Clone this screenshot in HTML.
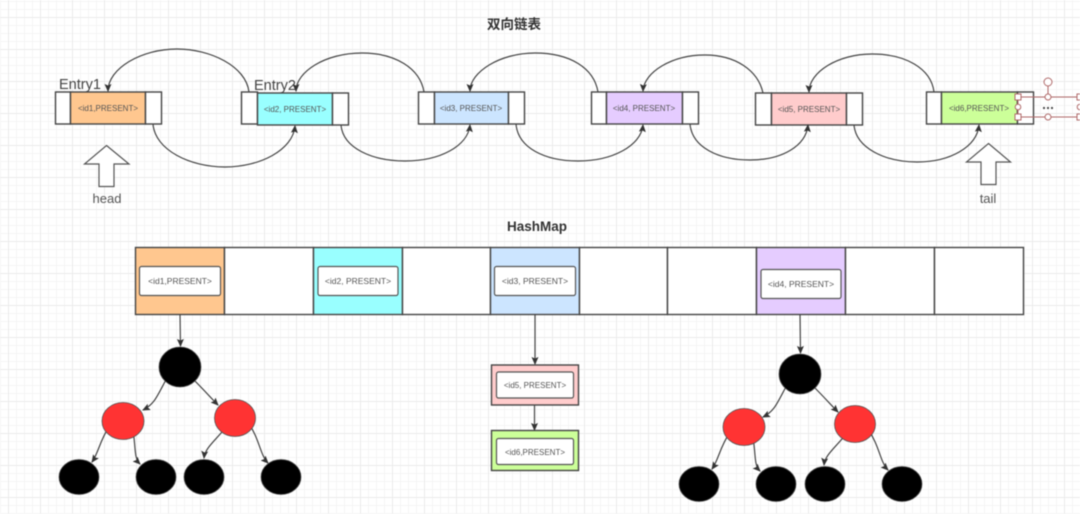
<!DOCTYPE html>
<html><head><meta charset="utf-8"><style>
html,body{margin:0;padding:0;background:#fff}
svg{display:block;filter:blur(0.45px)}
text{font-family:"Liberation Sans","Noto Sans CJK SC",sans-serif}
.i{font-size:8.5px;fill:#555;text-anchor:middle}
.n{font-size:8px;fill:#555;text-anchor:middle}
.l{font-size:13px;fill:#555;text-anchor:middle}
.t{font-size:13.500px;font-weight:bold;fill:#333;text-anchor:middle}
.b{stroke:#444;stroke-width:1.4}
.e{fill:none;stroke:#444;stroke-width:1.2;marker-end:url(#a)}
.w{fill:#fff;stroke:#555;stroke-width:1.2}
.h{fill:#fff;stroke:#b06a6a;stroke-width:1}
</style></head><body>
<svg width="1080" height="514" viewBox="0 0 1080 514" xmlns="http://www.w3.org/2000/svg">
<defs>
<pattern id="g" width="8" height="8" patternUnits="userSpaceOnUse" patternTransform="translate(0,1)"><path d="M0.5 0V8M0 0.5H8" stroke="#f5f5f5" fill="none"/></pattern>
<pattern id="m" width="32" height="32" patternUnits="userSpaceOnUse" patternTransform="translate(8,17)"><path d="M0.5 0V32M0 0.5H32" stroke="#ebebeb" fill="none"/></pattern>
<marker id="a" markerUnits="userSpaceOnUse" markerWidth="9" markerHeight="9" refX="7" refY="3.500" orient="auto"><path d="M0 0L8 3.500L0 7L1.500 3.500Z" fill="#333"/></marker>
</defs>
<rect width="1080" height="514" fill="url(#g)"/>
<rect width="1080" height="514" fill="url(#m)"/>

<text x="514" y="29" class="t">双向链表</text>
<text x="537" y="231" class="t">HashMap</text>

<!-- list nodes -->
<g class="b">
<rect x="55.500" y="92" width="15" height="32" fill="#fff"/><rect x="70.500" y="92" width="75" height="32" fill="#ffc78f"/><rect x="145.500" y="92" width="16" height="32" fill="#fff"/>
<rect x="241.500" y="92" width="16" height="32" fill="#fff"/><rect x="257.500" y="93" width="75" height="32" fill="#99ffff"/><rect x="332.500" y="93" width="16" height="32" fill="#fff"/>
<rect x="418.500" y="92" width="16" height="32" fill="#fff"/><rect x="434.500" y="92" width="74" height="32" fill="#cce5ff"/><rect x="508.500" y="92" width="16" height="32" fill="#fff"/>
<rect x="591.500" y="92" width="15" height="32" fill="#fff"/><rect x="606.500" y="92" width="76" height="32" fill="#e5ccff"/><rect x="682.500" y="92" width="16" height="32" fill="#fff"/>
<rect x="755.500" y="93" width="16" height="32" fill="#fff"/><rect x="771.500" y="93" width="75" height="32" fill="#ffcccc"/><rect x="846.500" y="93" width="16" height="32" fill="#fff"/>
<rect x="926.500" y="92" width="15" height="32" fill="#fff"/><rect x="941.500" y="92" width="76" height="32" fill="#ccff99"/><rect x="1017.500" y="92" width="16" height="32" fill="#fff"/>
</g>
<text x="108" y="111" class="n">&lt;id1,PRESENT&gt;</text>
<text x="295" y="112" class="n">&lt;id2, PRESENT&gt;</text>
<text x="471" y="111" class="n">&lt;id3, PRESENT&gt;</text>
<text x="644" y="111" class="n">&lt;id4, PRESENT&gt;</text>
<text x="809" y="112" class="n">&lt;id5, PRESENT&gt;</text>
<text x="979" y="111" class="n">&lt;id6,PRESENT&gt;</text>
<text x="59" y="89" font-size="14.500" fill="#444">Entry1</text>
<text x="254" y="90" font-size="14.500" fill="#444">Entry2</text>

<!-- list arcs -->
<path class="e" d="M249 92C246 66 210 49 177 49C142 49 108 68 108 91"/>
<path class="e" d="M153 124C155 150 190 167 225 167C260 167 293 150 295 126"/>
<path class="e" d="M424 92C420 68 395 53 362 53C325 53 296 72 296 91"/>
<path class="e" d="M341 125C343 148 372 161 405 161C440 161 468 146 470 125"/>
<path class="e" d="M598 92C594 68 570 53 535 53C500 53 470 72 470 91"/>
<path class="e" d="M516 124C518 148 545 161 578 161C612 161 641 146 643 125"/>
<path class="e" d="M763 93C758 70 735 55 705 55C672 55 644 72 643 91"/>
<path class="e" d="M690 124C692 147 718 160 750 160C782 160 806 146 808 125"/>
<path class="e" d="M934 92C931 68 905 54 872 54C838 54 809 72 809 92"/>
<path class="e" d="M854 125C856 148 885 162 917 162C950 162 977 147 979 125"/>

<!-- head / tail -->
<path d="M106.500 145.500L129 164H114V186.500H99V164H84.500Z" fill="#fff" stroke="#555" stroke-width="1.200"/>
<path d="M988.500 143.500L1010.500 162H996V184.500H981V162H966.500Z" fill="#fff" stroke="#555" stroke-width="1.200"/>
<text x="107" y="203" class="l">head</text>
<text x="988" y="203" class="l">tail</text>

<!-- selection handles -->
<g>
<path d="M1018 97H1080M1018 117H1080M1018 97V117M1048 86V97" stroke="#b06a6a" fill="none"/>
<rect class="h" x="1015" y="94" width="6" height="6"/><rect class="h" x="1015" y="114" width="6" height="6"/>
<circle class="h" cx="1018" cy="107" r="2.800"/>
<circle class="h" cx="1048" cy="82" r="4"/><circle class="h" cx="1048" cy="97" r="3"/><circle class="h" cx="1048" cy="117" r="3"/>
<rect class="h" x="1077" y="94" width="6" height="6"/><rect class="h" x="1077" y="114" width="6" height="6"/>
<circle class="h" cx="1080" cy="107" r="2.800"/>
<circle cx="1044" cy="108" r="1.100" fill="#444"/><circle cx="1048" cy="108" r="1.100" fill="#444"/><circle cx="1052" cy="108" r="1.100" fill="#444"/>
</g>

<!-- hashmap -->
<g class="b" fill="#fff">
<rect x="135.500" y="247.500" width="89" height="67" fill="#ffc78f"/>
<rect x="224.500" y="247.500" width="89" height="67"/>
<rect x="313.500" y="247.500" width="89" height="67" fill="#99ffff"/>
<rect x="402.500" y="247.500" width="88" height="67"/>
<rect x="490.500" y="247.500" width="89" height="67" fill="#cce5ff"/>
<rect x="579.500" y="247.500" width="88" height="67"/>
<rect x="667.500" y="247.500" width="89" height="67"/>
<rect x="756.500" y="247.500" width="89" height="67" fill="#e5ccff"/>
<rect x="845.500" y="247.500" width="89" height="67"/>
<rect x="934.500" y="247.500" width="89" height="67"/>
</g>
<g class="w">
<rect x="139.500" y="266.500" width="81" height="29" rx="2"/>
<rect x="318" y="266.500" width="80" height="29" rx="2"/>
<rect x="494.500" y="266.500" width="81" height="29" rx="2"/>
<rect x="761" y="269.500" width="80" height="29" rx="2"/>
</g>
<text x="180" y="284" class="i">&lt;id1,PRESENT&gt;</text>
<text x="358" y="284" class="i">&lt;id2, PRESENT&gt;</text>
<text x="535" y="284" class="i">&lt;id3, PRESENT&gt;</text>
<text x="801" y="287" class="i">&lt;id4, PRESENT&gt;</text>

<!-- chain -->
<path class="e" d="M535 314V364"/>
<rect class="b" x="491.500" y="365" width="87" height="40" fill="#ffcccc"/>
<rect class="w" x="496.500" y="372" width="77" height="26" rx="2"/>
<text x="535" y="388" class="n">&lt;id5, PRESENT&gt;</text>
<path class="e" d="M534.500 405V430"/>
<rect class="b" x="491.500" y="430.500" width="87" height="40" fill="#ccff99"/>
<rect class="w" x="496.500" y="438.500" width="77" height="26" rx="2"/>
<text x="535" y="455" class="n">&lt;id6,PRESENT&gt;</text>

<!-- tree 1 -->
<g class="e">
<path d="M180 314L180.500 346"/>
<path d="M168 376C157 396 155 404 143 410"/>
<path d="M192 378C205 391 211 398 218 405"/>
<path d="M110 425C99 442 99 452 92 462"/>
<path d="M133 430C136 450 134 458 140 464"/>
<path d="M228 425C214 442 205 448 204 458"/>
<path d="M248 422C260 440 260 455 268 463"/>
</g>
<g stroke="#555" stroke-width="0.800">
<ellipse cx="180" cy="367" rx="21" ry="20" fill="#000"/>
<ellipse cx="123" cy="421" rx="21" ry="18.500" fill="#ff3333"/>
<ellipse cx="235" cy="418" rx="20.500" ry="18.500" fill="#ff3333"/>
<ellipse cx="79" cy="477" rx="20" ry="17.500" fill="#000"/>
<ellipse cx="156" cy="477" rx="20" ry="17.500" fill="#000"/>
<ellipse cx="204" cy="477" rx="20" ry="17.500" fill="#000"/>
<ellipse cx="281" cy="477" rx="20" ry="17.500" fill="#000"/>
</g>

<!-- tree 2 -->
<g transform="translate(620,7)">
<g class="e">
<path d="M180 307L180.500 346"/>
<path d="M168 376C157 396 155 404 143 410"/>
<path d="M192 378C205 391 211 398 218 405"/>
<path d="M110 425C99 442 99 452 92 462"/>
<path d="M133 430C136 450 134 458 140 464"/>
<path d="M228 425C214 442 205 448 204 458"/>
<path d="M248 422C260 440 260 455 268 463"/>
</g>
<g stroke="#555" stroke-width="0.800">
<ellipse cx="180" cy="367" rx="21" ry="20" fill="#000"/>
<ellipse cx="124" cy="420" rx="21" ry="18.500" fill="#ff3333"/>
<ellipse cx="235" cy="417" rx="20.500" ry="18.500" fill="#ff3333"/>
<ellipse cx="79" cy="477" rx="20" ry="17.500" fill="#000"/>
<ellipse cx="156" cy="477" rx="20" ry="17.500" fill="#000"/>
<ellipse cx="205" cy="477" rx="20" ry="17.500" fill="#000"/>
<ellipse cx="282" cy="477" rx="20" ry="17.500" fill="#000"/>
</g>
</g>
</svg>
</body></html>
